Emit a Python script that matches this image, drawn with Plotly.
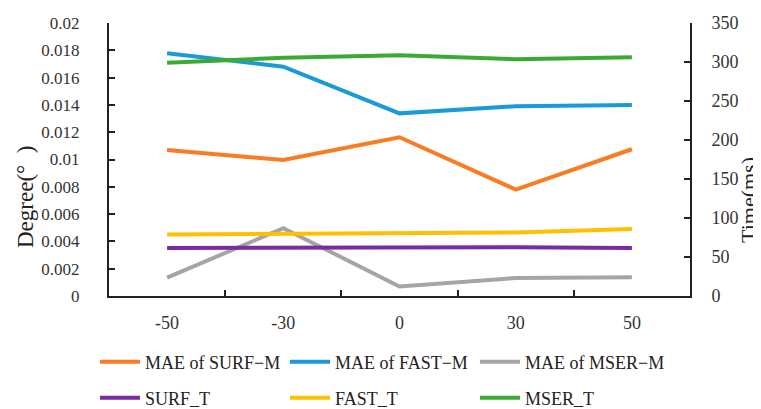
import plotly.graph_objects as go

categories = ["-50", "-30", "0", "30", "50"]
mae_surf_m = [0.0107, 0.00996, 0.01163, 0.0078, 0.01075]
mae_fast_m = [0.01778, 0.0168, 0.01338, 0.0139, 0.01400]
mae_mser_m = [0.00134, 0.00497, 0.00070, 0.00132, 0.00137]
surf_t = [61.5, 61.8, 62.8, 62.5, 61.5]
fast_t = [79.0, 80.0, 81.0, 81.5, 85.8]
mser_t = [299.0, 305.5, 308.5, 303.5, 306.0]

left_ticks = [0, 0.002, 0.004, 0.006, 0.008, 0.01, 0.012, 0.014, 0.016, 0.018, 0.02]
left_ticktext = ["0", "0.002", "0.004", "0.006", "0.008", "0.01", "0.012", "0.014", "0.016", "0.018", "0.02"]
right_ticks = [0, 50, 100, 150, 200, 250, 300, 350]

FONT = "Liberation Serif"
W = 4
PW, PH = 581, 273
# page body has an 8px margin; figure is sized so the plot lands at screen x 109..690, y 23..296
fig = go.Figure()
series = [
    ("MAE of SURF\u2212M", mae_surf_m, "#F97B22", "y", "legend"),
    ("MAE of FAST\u2212M", mae_fast_m, "#1B9AD8", "y", "legend"),
    ("MAE of MSER\u2212M", mae_mser_m, "#A5A5A5", "y", "legend"),
    ("SURF_T", surf_t, "#7A2BA3", "y2", "legend2"),
    ("FAST_T", fast_t, "#FFC000", "y2", "legend2"),
    ("MSER_T", mser_t, "#3BAA35", "y2", "legend2"),
]
for name, vals, color, yax, lg in series:
    fig.add_trace(go.Scatter(
        x=categories, y=vals, name=name, mode="lines", yaxis=yax, legend=lg,
        line=dict(color=color, width=W), cliponaxis=False,
    ))

legend_common = dict(
    orientation="h", xanchor="left", yanchor="middle",
    font=dict(family=FONT, size=18, color="#222222"),
    entrywidth=135, entrywidthmode="pixels",
    tracegroupgap=0, itemwidth=40, bgcolor="rgba(0,0,0,0)",
)

fig.update_layout(
    width=753, height=401,
    margin=dict(l=101, r=71, t=15, b=113, autoexpand=False),
    paper_bgcolor="white", plot_bgcolor="white",
    font=dict(family=FONT, size=18, color="#222222"),
    xaxis=dict(
        type="category", range=[-0.5, 4.5], showgrid=False, automargin=False,
        showline=True, linecolor="#222222", linewidth=2,
        ticks="inside", ticklen=6, tickcolor="#222222", tickwidth=2,
        tickson="boundaries", ticklabelstandoff=9,
        tickfont=dict(family=FONT, size=18, color="#333333"),
        zeroline=False, mirror=False,
    ),
    yaxis=dict(
        range=[0, 0.02], tickvals=left_ticks, ticktext=left_ticktext,
        showgrid=False, zeroline=False, automargin=False,
        showline=True, linecolor="#222222", linewidth=2,
        ticks="inside", ticklen=6, tickcolor="#222222", tickwidth=2,
        ticklabelstandoff=24,
        tickfont=dict(family=FONT, size=17, color="#333333"),
    ),
    yaxis2=dict(
        range=[0, 350], tickvals=right_ticks, overlaying="y", side="right",
        showgrid=False, zeroline=False, automargin=False,
        showline=True, linecolor="#222222", linewidth=2,
        ticks="inside", ticklen=6, tickcolor="#222222", tickwidth=2,
        ticklabelstandoff=16,
        tickfont=dict(family=FONT, size=18, color="#333333"),
    ),
    legend=dict(x=-14 / PW, y=(296 - 362) / PH, **legend_common),
    legend2=dict(x=-14 / PW, y=(296 - 398) / PH, **legend_common),
    showlegend=True,
)

fig.add_annotation(
    text="Degree(\u00b0\u00a0\u00a0)", xref="paper", yref="paper",
    x=(25 - 109) / PW, y=(296 - 197) / PH, xanchor="center", yanchor="middle",
    textangle=-90, showarrow=False, font=dict(family=FONT, size=23, color="#222222"),
)
fig.add_annotation(
    text="Time(ms)", xref="paper", yref="paper",
    x=(749 - 109) / PW, y=(296 - 200) / PH, xanchor="center", yanchor="middle",
    textangle=-90, showarrow=False, font=dict(family=FONT, size=22, color="#222222"),
)

fig.write_html("out.html")
